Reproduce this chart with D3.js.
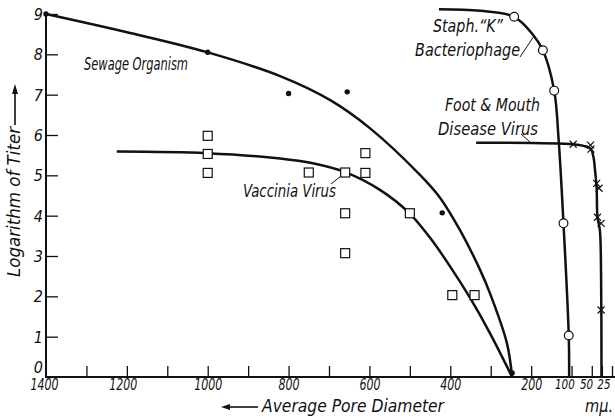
<!DOCTYPE html>
<html>
<head>
<meta charset="utf-8">
<script src="https://cdn.jsdelivr.net/npm/d3@7"></script>
<style>
  body { margin: 0; background: #fff; }
  text { font-family: "Liberation Sans Narrow", "DejaVu Sans Condensed", sans-serif; font-style: italic; fill: #111; font-size: 18px; }
  .tick text { font-size: 16px; }
  .tick text.small { font-size: 14px; }
</style>
</head>
<body>
<div id="chart"></div>
<script>
// tick values
const xTickMarks = [1300, 1200, 1100, 1000, 900, 800, 700, 600, 500, 400, 300, 200, 100, 50, 25, 0]
const xTickLabels = [1400, 1200, 1000, 800, 600, 400, 200, 100, 50, 25]
const yTicks = [0, 1, 2, 3, 4, 5, 6, 7, 8, 9]

// sewage organism (filled dots) and its drawn curve
const sewageX = [1400, 1000, 800, 655, 420, 247]
const sewageY = [9, 8.05, 7.03, 7.07, 4.07, 0.1]
const sewageCurveX = [1400, 1192, 1004, 821, 698, 599, 475, 425, 376, 326, 302, 260, 247]
const sewageCurveY = [9, 8.53, 8.06, 7.46, 6.87, 6.17, 5.01, 4.44, 3.64, 2.65, 2.08, 0.84, 0]

// vaccinia virus (squares) and curve
const vacciniaX = [1000, 1000, 1000, 750, 660, 660, 660, 610, 610, 500, 395, 340]
const vacciniaY = [5.98, 5.53, 5.06, 5.07, 5.07, 4.06, 3.07, 5.55, 5.06, 4.06, 2.03, 2.03]
const vacciniaCurveX = [1225, 1002, 821, 740, 660, 574, 502, 450, 401, 351, 302, 247]
const vacciniaCurveY = [5.59, 5.55, 5.42, 5.3, 5.08, 4.64, 4.07, 3.45, 2.75, 1.96, 1.09, 0]

// staph "K" bacteriophage (circles) and curve
const staphX = [242, 171, 143, 120, 107]
const staphY = [8.93, 8.1, 7.1, 3.81, 1.03]
const staphCurveX = [428, 326, 242, 195, 171, 143, 132, 120, 107, 106]
const staphCurveY = [9.12, 9.08, 8.93, 8.48, 8.1, 7.1, 5.88, 3.81, 1.03, 0]

// foot & mouth disease virus (crosses) and curve
const fmX = [96, 53, 52, 38, 32, 36, 27, 27]
const fmY = [5.77, 5.75, 5.65, 4.8, 4.68, 3.96, 3.81, 1.66]
const fmCurveX = [336, 96, 70, 53, 46, 42, 38, 36, 30, 27, 26]
const fmCurveY = [5.81, 5.77, 5.73, 5.66, 5.46, 5.13, 4.69, 3.97, 3.64, 2.5, 0]

const width = 615
const height = 418

const svg = d3.select('#chart').append('svg').attr('width', width).attr('height', height)

const x = d3.scaleLinear().domain([1400, 0]).range([46, 612])
const y = d3.scaleLinear().domain([0, 9]).range([377, 14])

const ink = '#111'

// axes
const xMarks = svg.append('g').attr('transform', `translate(0, ${y(0)})`)
  .call(d3.axisBottom(x).tickValues(xTickMarks).tickSizeInner(-11).tickSizeOuter(0).tickFormat(''))
xMarks.select('.domain').remove()
xMarks.selectAll('line').attr('stroke', ink).attr('stroke-width', 1.3)

// the three small values are squeezed together under the axis
const labelShift = { 1400: -2, 1200: -4, 100: -7.2, 50: -5.8, 25: 1.5 }
const xLabels = svg.append('g').attr('transform', `translate(0, ${y(0)})`)
  .call(d3.axisBottom(x).tickValues(xTickLabels).tickSize(0).tickPadding(2).tickFormat(d3.format('d')))
xLabels.attr('font-family', null).attr('font-size', null)
xLabels.select('.domain').remove()
xLabels.selectAll('text')
  .classed('small', d => d <= 100)
  .attr('dx', d => labelShift[d] || 0)
  .attr('textLength', d => String(d).length * (d <= 100 ? 6.6 : 7))
  .attr('lengthAdjust', 'spacingAndGlyphs')

const yAxisGroup = svg.append('g').attr('transform', `translate(${x(1400)}, 0)`)
  .call(d3.axisLeft(y).tickValues(yTicks).tickSizeInner(-12).tickSizeOuter(0).tickPadding(3))
yAxisGroup.attr('font-family', null).attr('font-size', null)
yAxisGroup.select('.domain').remove()
yAxisGroup.selectAll('line').attr('stroke', ink).attr('stroke-width', 1.3)
yAxisGroup.selectAll('text').attr('dy', d => d === 0 ? '-0.3em' : '0.35em')

svg.append('line').attr('x1', x(1400)).attr('x2', width).attr('y1', y(0)).attr('y2', y(0))
  .attr('stroke', ink).attr('stroke-width', 2)
svg.append('line').attr('x1', x(1400)).attr('x2', x(1400)).attr('y1', y(0) + 1).attr('y2', y(9))
  .attr('stroke', ink).attr('stroke-width', 2)

// curves
const line = d3.line().x(d => x(d[0])).y(d => y(d[1])).curve(d3.curveCatmullRom.alpha(0.5))
const curves = [
  d3.zip(sewageCurveX, sewageCurveY),
  d3.zip(vacciniaCurveX, vacciniaCurveY),
  d3.zip(staphCurveX, staphCurveY),
  d3.zip(fmCurveX, fmCurveY),
]
svg.append('g').selectAll('path').data(curves).enter().append('path')
  .attr('d', line).attr('fill', 'none').attr('stroke', ink).attr('stroke-width', 2.5)

// markers
svg.append('g').selectAll('circle').data(d3.zip(sewageX, sewageY)).enter().append('circle')
  .attr('cx', d => x(d[0])).attr('cy', d => y(d[1])).attr('r', 2.7).attr('fill', ink)

svg.append('g').selectAll('rect').data(d3.zip(vacciniaX, vacciniaY)).enter().append('rect')
  .attr('x', d => x(d[0]) - 4.5).attr('y', d => y(d[1]) - 4.5).attr('width', 9).attr('height', 9)
  .attr('fill', '#fff').attr('stroke', ink).attr('stroke-width', 1.2)

svg.append('g').selectAll('circle').data(d3.zip(staphX, staphY)).enter().append('circle')
  .attr('cx', d => x(d[0])).attr('cy', d => y(d[1])).attr('r', 4.4)
  .attr('fill', '#fff').attr('stroke', ink).attr('stroke-width', 1.2)

svg.append('g').selectAll('path').data(d3.zip(fmX, fmY)).enter().append('path')
  .attr('transform', d => `translate(${x(d[0])}, ${y(d[1])})`)
  .attr('d', 'M-3.5,-3.5L3.5,3.5M-3.5,3.5L3.5,-3.5')
  .attr('stroke', ink).attr('stroke-width', 1.2)

// labels
const notes = svg.append('g')
function note(t, px, py, len) {
  notes.append('text').attr('x', px).attr('y', py).attr('textLength', len)
    .attr('lengthAdjust', 'spacingAndGlyphs').text(t)
}
note('Sewage Organism', 84, 70, 104)
note('Vaccinia Virus', 243, 197, 93)
note('Staph.\u201CK\u201D', 433, 32, 70)
note('Bacteriophage', 415, 56, 105)
note('Foot & Mouth', 445, 111, 95)
note('Disease Virus', 438, 135, 100)

// leaders
const leaders = [
  [[520, 57], [534, 36]],
  [[521, 134], [530, 142]],
  [[331, 184], [341, 176]],
]
notes.selectAll('line').data(leaders).enter().append('line')
  .attr('x1', d => d[0][0]).attr('y1', d => d[0][1]).attr('x2', d => d[1][0]).attr('y2', d => d[1][1])
  .attr('stroke', ink).attr('stroke-width', 1)

// axis titles
notes.append('text').attr('x', 262).attr('y', 412).style('font-size', '17px').attr('textLength', 182)
  .attr('lengthAdjust', 'spacingAndGlyphs').text('Average Pore Diameter')
notes.append('line').attr('x1', 228).attr('x2', 258).attr('y1', 407).attr('y2', 407)
  .attr('stroke', ink).attr('stroke-width', 1.6)
notes.append('path').attr('d', 'M221,407L230,404L230,410Z').attr('fill', ink)
notes.append('text').attr('x', 585).attr('y', 412).style('font-size', '17px').attr('textLength', 28)
  .attr('lengthAdjust', 'spacingAndGlyphs').text('m\u03BC.')

notes.append('text').attr('transform', 'translate(20, 202) rotate(-90)')
  .attr('text-anchor', 'middle').attr('textLength', 150).attr('lengthAdjust', 'spacingAndGlyphs')
  .text('Logarithm of Titer')
notes.append('line').attr('x1', 15).attr('x2', 15).attr('y1', 125).attr('y2', 92)
  .attr('stroke', ink).attr('stroke-width', 1.6)
notes.append('path').attr('d', 'M15,84L12,94L18,94Z').attr('fill', ink)
</script>
</body>
</html>
